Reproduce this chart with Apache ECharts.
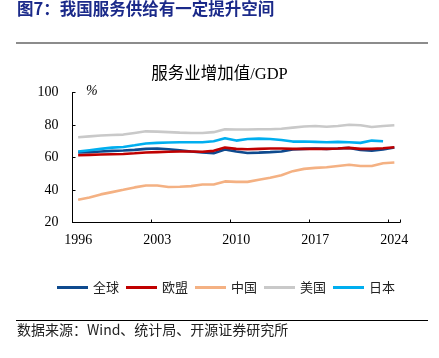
<!DOCTYPE html>
<html>
<head>
<meta charset="utf-8">
<script src="https://cdn.jsdelivr.net/npm/echarts@6/dist/echarts.min.js"></script>
<style>
html,body{margin:0;padding:0;background:#fff;}
#main{width:439px;height:358px;}
</style>
</head>
<body>
<div id="main"></div>
<script>
var years = [];
for (var y = 1996; y <= 2024; y++) years.push(String(y));

var seriesNames = ['全球', '欧盟', '中国', '美国', '日本'];
var global = [63.1, 63.3, 63.7, 64.1, 64.3, 64.7, 65.3, 65.5, 65.1, 64.4, 63.7, 63.1, 62.6, 64.9, 63.7, 62.8, 63.0, 63.3, 63.7, 64.9, 65.3, 65.5, 65.3, 65.5, 65.9, 64.6, 64.2, 64.9, 66.1];
var eu     = [61.4, 61.6, 61.8, 62.0, 62.2, 62.6, 63.1, 63.3, 63.5, 63.7, 63.7, 63.5, 64.1, 66.1, 65.3, 65.1, 65.3, 65.5, 65.5, 65.3, 65.3, 65.3, 65.3, 65.5, 65.9, 65.3, 65.3, 65.7, 66.3];
var china  = [34.0, 35.4, 37.3, 38.7, 40.1, 41.6, 42.8, 42.8, 41.8, 42.0, 42.4, 43.4, 43.4, 45.3, 45.0, 45.0, 46.3, 47.5, 49.1, 51.6, 53.0, 53.6, 54.0, 54.8, 55.5, 54.8, 54.8, 56.5, 56.9];
var usa    = [72.5, 73.0, 73.5, 73.8, 74.1, 75.1, 76.1, 75.9, 75.6, 75.3, 75.1, 75.1, 75.6, 77.4, 77.2, 77.2, 77.4, 77.4, 77.7, 78.4, 79.1, 79.4, 78.9, 79.4, 80.2, 79.8, 78.8, 79.4, 79.8];
var japan  = [63.7, 64.5, 65.3, 66.1, 66.5, 67.5, 68.6, 69.0, 69.2, 69.4, 69.4, 69.4, 70.0, 71.8, 70.4, 71.4, 71.6, 71.4, 70.8, 69.8, 69.8, 69.6, 69.4, 69.6, 69.4, 69.0, 70.4, 70.0];
var seriesData = [global, eu, china, usa, japan];
var colors = ['#0E4A8E', '#C00000', '#F4B183', '#C9C9C9', '#00AEEF'];
var yTicks = [20, 40, 60, 80, 100];

var serif = "'Liberation Serif','Times New Roman','Noto Sans CJK SC',serif";
var cjk = "'Noto Sans CJK SC','Liberation Serif',serif";

var chart = echarts.init(document.getElementById('main'), null, {renderer: 'canvas'});
var series = seriesNames.map(function (n, i) {
  return {
    name: n,
    type: 'line',
    data: seriesData[i],
    symbol: 'none',
    smooth: false,
    lineStyle: {width: 2.6, color: colors[i]},
    itemStyle: {color: colors[i]},
    z: 2 + i
  };
});

chart.setOption({
  animation: false,
  backgroundColor: '#fff',
  color: colors,
  grid: {left: 72.5, right: 39, top: 92.5, bottom: 135.5, containLabel: false},
  legend: {
    data: seriesNames,
    left: 57,
    top: 281,
    padding: 0,
    icon: 'rect',
    itemWidth: 31,
    itemHeight: 3,
    itemGap: 7,
    textStyle: {fontSize: 13, fontFamily: cjk, color: '#222'}
  },
  xAxis: {
    type: 'category',
    data: years,
    boundaryGap: true,
    axisLine: {lineStyle: {color: '#000', width: 1}},
    axisTick: {show: true, inside: true, length: 3, interval: 6, lineStyle: {color: '#000'}},
    axisLabel: {interval: 6, margin: 11, fontSize: 14, fontFamily: serif, color: '#000'},
    splitLine: {show: false}
  },
  yAxis: {
    type: 'value',
    min: yTicks[0],
    max: yTicks[yTicks.length - 1],
    interval: 20,
    axisLine: {show: true, lineStyle: {color: '#000', width: 1}},
    axisTick: {show: true, inside: true, length: 3, lineStyle: {color: '#000'}},
    axisLabel: {margin: 14, fontSize: 14, fontFamily: serif, color: '#000'},
    splitLine: {show: false}
  },
  graphic: [
    {type: 'text', left: 17, top: 0, style: {text: '图7：我国服务供给有一定提升空间', font: "bold 16.5px 'Noto Sans CJK SC'", fill: '#1B2A8A'}},
    {type: 'rect', shape: {x: 16, y: 42, width: 412, height: 2}, style: {fill: '#8C8C8C'}},
    {type: 'text', left: 'center', top: 66, style: {text: '服务业增加值/GDP', font: "16.5px " + serif, fill: '#000'}},
    {type: 'text', left: 86, top: 84, style: {text: '%', font: "italic 14px " + serif, fill: '#000'}},
    {type: 'rect', shape: {x: 16, y: 320, width: 412, height: 1}, style: {fill: '#000'}},
    {type: 'text', left: 17, top: 323, style: {text: '数据来源：Wind、统计局、开源证券研究所', font: "14px " + cjk, fill: '#222'}}
  ],
  series: series
});
</script>
</body>
</html>
